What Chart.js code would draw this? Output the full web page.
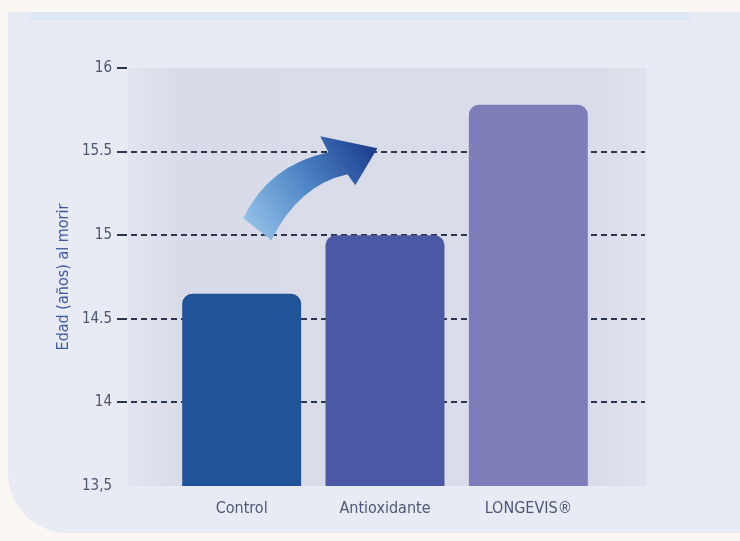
<!DOCTYPE html>
<html>
<head>
<meta charset="utf-8">
<script src="https://cdn.jsdelivr.net/npm/chart.js@4/dist/chart.umd.min.js"></script>
<style>
  html, body { margin: 0; padding: 0; background: #f7f7fb; }
  #wrap { width: 740px; height: 541px; }
</style>
</head>
<body>
<div id="wrap"><canvas id="edad" width="740" height="541"></canvas></div>
<script>
// datos
var grupos = ['Control', 'Antioxidante', 'LONGEVIS\u00AE'];
var edad = [14.65, 15.0, 15.78];
var colores = ['#1f5597', '#4b58a3', '#7d7db9'];
var yTicks = [13.5, 14, 14.5, 15, 15.5, 16];
var yTickLabels = ['13,5', '14', '14.5', '15', '15.5', '16'];
var tituloY = 'Edad (a\u00F1os) al morir';

var fuente = "'DejaVu Sans Condensed', 'Liberation Sans Narrow', sans-serif";

// fondo, panel y lineas punteadas
var fondo = {
    id: 'fondo',
    beforeDraw: function (chart) {
        var ctx = chart.ctx;
        var y = chart.scales.y;
        ctx.save();
        ctx.fillStyle = '#fbf8f4';
        ctx.fillRect(0, 0, chart.width, chart.height);
        // panel
        ctx.fillStyle = '#e8ebf4';
        ctx.beginPath();
        ctx.roundRect(8, 12, chart.width + 40, chart.height - 20, [0, 40, 0, 60]);
        ctx.fill();
        ctx.fillStyle = '#dfe7f6';
        ctx.fillRect(30, 12, 660, 8);
        // zona del grafico
        var top = y.getPixelForValue(16);
        var bot = y.getPixelForValue(13.5);
        var g = ctx.createLinearGradient(128, 0, 647, 0);
        g.addColorStop(0, '#e2e5ef');
        g.addColorStop(0.1, '#d9dce8');
        g.addColorStop(0.9, '#dadde9');
        g.addColorStop(1, '#e0e2ed');
        ctx.fillStyle = g;
        ctx.fillRect(128, top, 647 - 128, bot - top);
        // lineas
        ctx.strokeStyle = '#2b3652';
        ctx.lineWidth = 2;
        yTicks.forEach(function (v) {
            var py = Math.round(y.getPixelForValue(v));
            if (v === 13.5) return;
            ctx.setLineDash([]);
            ctx.beginPath();
            ctx.moveTo(117, py);
            ctx.lineTo(127, py);
            ctx.stroke();
            if (v === 16) return;
            ctx.setLineDash([6, 4]);
            ctx.beginPath();
            ctx.moveTo(131, py);
            ctx.lineTo(645, py);
            ctx.stroke();
        });
        ctx.restore();
    }
};

// el eje Y queda separado del area de barras
var ejeY = {
    id: 'ejeY',
    afterLayout: function (chart) {
        var s = chart.scales.y;
        s.right = 124;
        s.width = s.right - s.left;
    }
};

// flecha curva
var flecha = {
    id: 'flecha',
    afterDatasetsDraw: function (chart) {
        var ctx = chart.ctx;
        var x = chart.scales.x;
        var y = chart.scales.y;
        var ox = (x.getPixelForValue(0) + x.getPixelForValue(1)) / 2;
        var oy = y.getPixelForValue(15);
        ctx.save();
        ctx.translate(ox, oy);
        var g = ctx.createLinearGradient(-70, 0, 65, -85);
        g.addColorStop(0, '#9cc8ec');
        g.addColorStop(0.5, '#4f86c6');
        g.addColorStop(1, '#1b3c8c');
        ctx.fillStyle = g;
        ctx.beginPath();
        ctx.moveTo(-70, -17);
        ctx.quadraticCurveTo(-45, -70, 15, -83);
        ctx.lineTo(7, -99);
        ctx.lineTo(64, -87);
        ctx.lineTo(42, -50);
        ctx.lineTo(34, -61);
        ctx.quadraticCurveTo(-15, -50, -42, 5);
        ctx.closePath();
        ctx.fill();
        ctx.restore();
    }
};

var lienzo = document.getElementById('edad');
var grafico = new Chart(lienzo, {
    type: 'bar',
    data: {
        labels: grupos,
        datasets: [{
            data: edad,
            backgroundColor: colores,
            borderWidth: 0,
            borderRadius: { topLeft: 10, topRight: 10, bottomLeft: 0, bottomRight: 0 },
            borderSkipped: 'bottom',
            barPercentage: 1,
            categoryPercentage: 0.83
        }]
    },
    options: {
        responsive: false,
        animation: false,
        devicePixelRatio: 1,
        layout: { padding: { left: 48, right: 140, top: 68, bottom: 0 } },
        plugins: {
            legend: { display: false },
            tooltip: { enabled: false }
        },
        scales: {
            x: {
                grid: { display: false },
                border: { display: false },
                ticks: {
                    padding: 5,
                    color: '#4c5876',
                    font: { family: fuente, size: 16 }
                },
                afterFit: function (s) { s.height = 55; }
            },
            y: {
                min: 13.5,
                max: 16,
                grid: { display: false },
                border: { display: false },
                afterBuildTicks: function (s) {
                    s.ticks = yTicks.map(function (v) { return { value: v }; });
                },
                ticks: {
                    padding: 4,
                    color: '#4b5670',
                    font: { family: fuente, size: 15 },
                    callback: function (v) {
                        var i = yTicks.indexOf(v);
                        return i >= 0 ? yTickLabels[i] : '';
                    }
                },
                title: {
                    display: true,
                    text: tituloY,
                    color: '#3d5aa5',
                    padding: { top: 6, bottom: 0 },
                    font: { family: fuente, size: 16 }
                },
                afterFit: function (s) { s.width = 122; }
            }
        }
    },
    plugins: [fondo, ejeY, flecha]
});
</script>
</body>
</html>
